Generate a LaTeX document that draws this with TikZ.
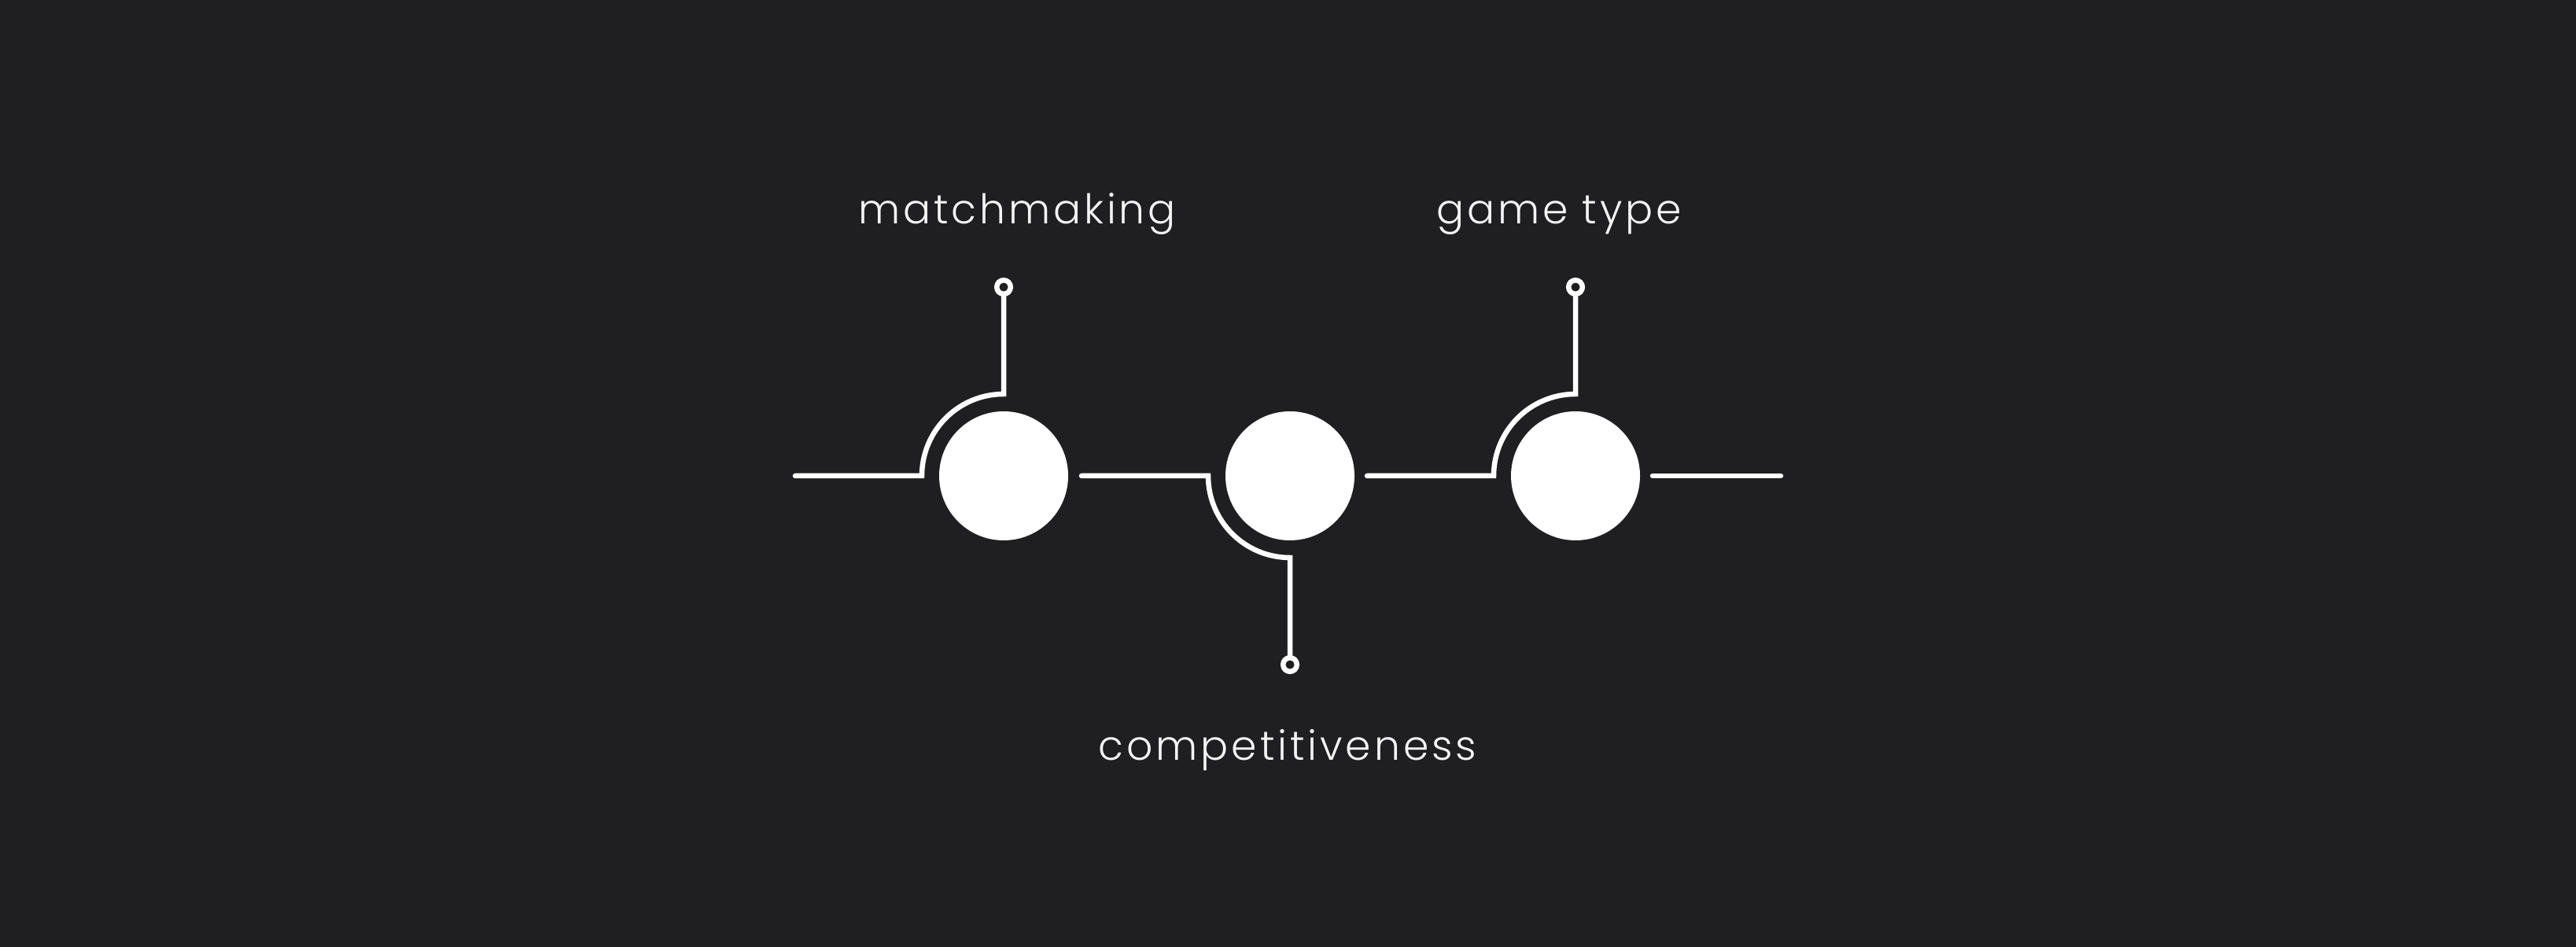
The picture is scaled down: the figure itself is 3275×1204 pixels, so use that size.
\documentclass[tikz,border=0pt]{standalone}
\usepackage{fontspec}
\setmainfont{Poppins}[UprightFont=* Light,LetterSpace=7.5]
\definecolor{bg}{HTML}{1F1F21}
\definecolor{ink}{HTML}{F4F4F4}
\begin{document}
\begin{tikzpicture}[x=1pt,y=1pt,
  wire/.style={draw=white,line width=6.5pt,line cap=round,line join=miter},
  hub/.style={circle,fill=white,minimum size=164pt,inner sep=0pt},
  ring/.style={circle,draw=white,line width=6.5pt,minimum size=17.6pt,inner sep=0pt},
  lbl/.style={text=ink,font=\fontsize{52}{62}\selectfont,anchor=base,inner sep=0pt}]
\fill[bg] (0,0) rectangle (3275,1204);
\useasboundingbox (0,0) rectangle (3275,1204);
% hubs
\node[hub] (c1) at (1276,599) {};
\node[hub] (c2) at (1640,599) {};
\node[hub] (c3) at (2003,599) {};
% rings
\node[ring] (r1) at (1276,839) {};
\node[ring] (r2) at (1640,359) {};
\node[ring] (r3) at (2003,839) {};
% wire ends
\coordinate (a1) at (1011,599);
\coordinate (b1) at (1172,599);
\coordinate (a2) at (1375,599);
\coordinate (b2) at (1536,599);
\coordinate (a3) at (1738,599);
\coordinate (b3) at (1899,599);
\coordinate (a4) at (2101,599);
\coordinate (b4) at (2264,599);
% connectors
\draw[wire] (a1) -- (b1) arc[start angle=180,end angle=90,radius=104pt] -- (r1.south);
\draw[wire] (a2) -- (b2) arc[start angle=180,end angle=270,radius=104pt] -- (r2.north);
\draw[wire] (a3) -- (b3) arc[start angle=180,end angle=90,radius=104pt] -- (r3.south);
\draw[wire] (a4) -- (b4);
% labels
\node[lbl] (t1) at (1293,919) {matchmaking};
\node[lbl] (t2) at (1982,919) {game type};
\node[lbl] (t3) at (1637,237) {competitiveness};
\end{tikzpicture}
\end{document}
